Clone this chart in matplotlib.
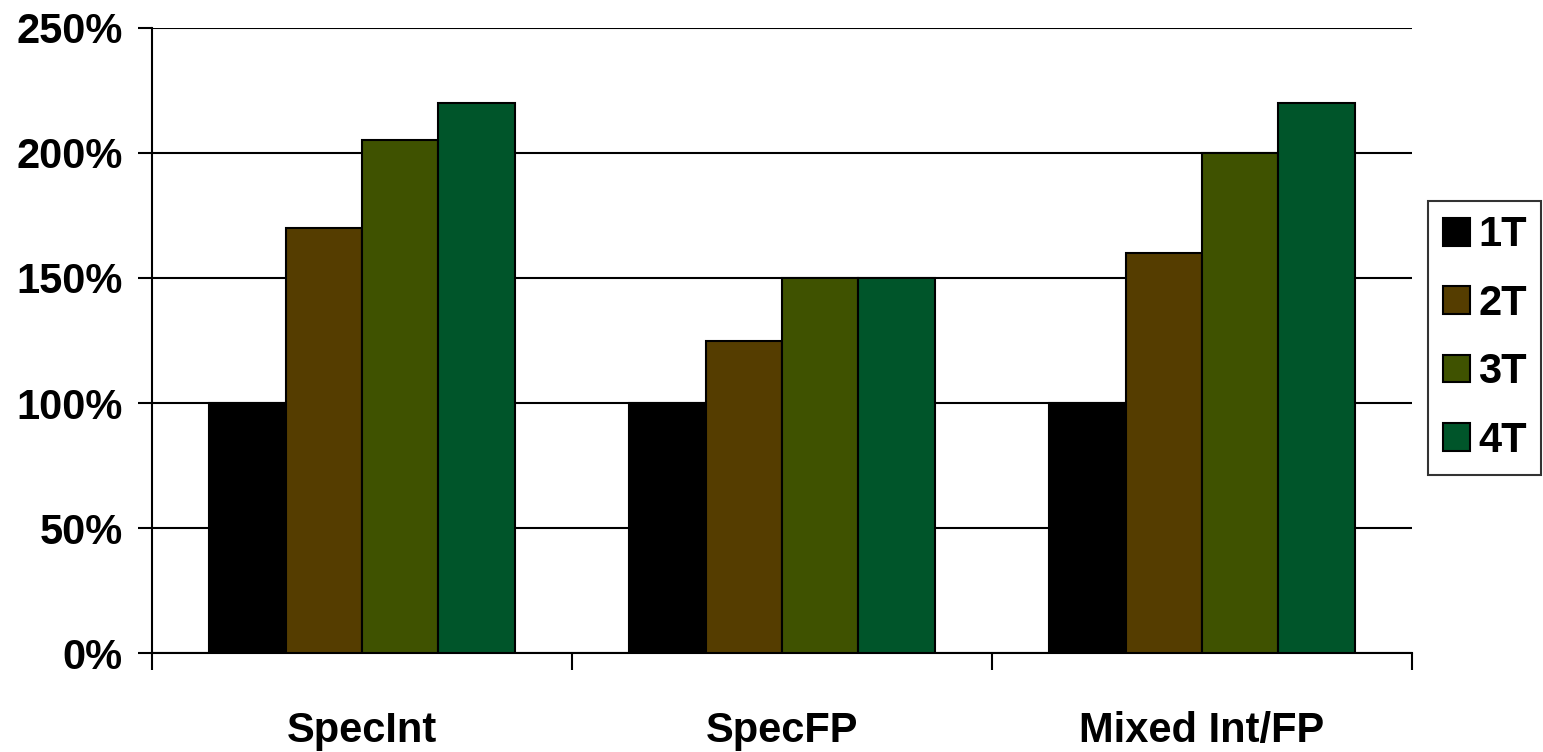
import matplotlib.pyplot as plt
import numpy as np

categories = ["SpecInt", "SpecFP", "Mixed Int/FP"]
series = ["1T", "2T", "3T", "4T"]
t1 = [100, 100, 100]
t2 = [170, 125, 160]
t3 = [205, 150, 200]
t4 = [220, 150, 220]
values = [t1, t2, t3, t4]
colors = ["#000000", "#553d00", "#3f5200", "#00552a"]
yticks = [0, 50, 100, 150, 200, 250]

plt.rcParams['font.family'] = ['Liberation Sans', 'DejaVu Sans']
plt.rcParams['font.weight'] = 'bold'

fig = plt.figure(figsize=(15.43, 7.52), dpi=100)
ax = fig.add_axes([0.0985, 0.1316, 0.8166, 0.8312])

x = np.arange(len(categories))
w = 0.182
for i, (vals, col) in enumerate(zip(values, colors)):
    ax.bar(x + (i - 1.5) * w, vals, w, color=col, edgecolor="black",
           linewidth=1.5, label=series[i], zorder=3)

ax.set_xlim(-0.5, 2.5)
ax.set_ylim(0, 250)
ax.set_yticks(yticks)
ax.set_yticklabels([f"{v}%" for v in yticks])
ax.yaxis.grid(True, color="black", linewidth=1.5)
ax.set_axisbelow(True)

# boundaries get the tick marks, centers get the labels
ax.set_xticks([-0.5, 0.5, 1.5, 2.5])
ax.set_xticklabels([])
ax.set_xticks(x, minor=True)
ax.set_xticklabels(categories, minor=True)
ax.tick_params(axis="x", which="major", direction="out", length=12, width=1.5)
ax.tick_params(axis="x", which="minor", length=0, pad=42, labelsize=30)
ax.tick_params(axis="y", direction="out", length=10, width=1.5, pad=11,
               labelsize=30)

for s in ["top", "right"]:
    ax.spines[s].set_visible(False)
ax.spines["left"].set_linewidth(1.5)
ax.spines["bottom"].set_linewidth(1.5)

leg = fig.legend(loc="center left", bbox_to_anchor=(1428 / 1543, 1 - 338 / 752),
                 fontsize=30, frameon=True, fancybox=False, edgecolor="black",
                 handlelength=0.65, handleheight=0.65, handletextpad=0.2,
                 labelspacing=0.68, borderpad=0.35, borderaxespad=0)
leg.get_frame().set_linewidth(1.5)
for p in leg.get_patches():
    p.set_linewidth(1.5)

fig.savefig("out.png", dpi=100)
